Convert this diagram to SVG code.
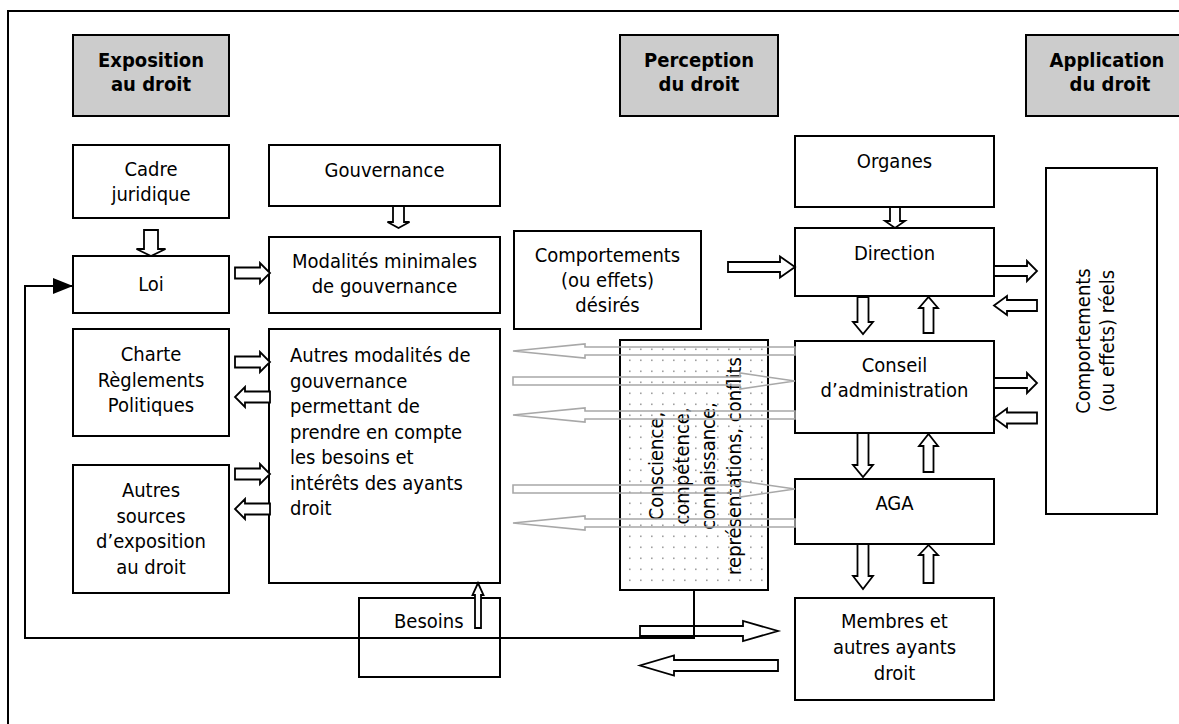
<svg xmlns="http://www.w3.org/2000/svg" width="1179" height="724" viewBox="0 0 1179 724">
<defs>
<style>
.box{fill:#fff;stroke:#000;stroke-width:2}
.hdr{fill:#cccccc;stroke:#000;stroke-width:2}
.t{font-family:"DejaVu Sans Condensed","DejaVu Sans",sans-serif;font-stretch:condensed;font-size:20px;fill:#000}
.b{font-weight:bold}
.c{text-anchor:middle}
.ba{fill:#fff;stroke:#000;stroke-width:1.8;stroke-linejoin:miter}
.ga{fill:none;stroke:#a8a8a8;stroke-width:1.6}
.ln{fill:none;stroke:#000;stroke-width:2}
</style>
<pattern id="dots" width="11" height="11" patternUnits="userSpaceOnUse" x="620" y="340">
<rect width="11" height="11" fill="#fff"/>
<rect x="9" y="8.5" width="1.6" height="1.6" fill="#a0a0a0"/>
</pattern>
<marker id="tri" markerUnits="userSpaceOnUse" markerWidth="20" markerHeight="16" refX="20" refY="8" orient="auto">
<path d="M0,0 L20,8 L0,16 Z" fill="#000"/>
</marker>
</defs>
<rect width="1179" height="724" fill="#fff"/>
<path d="M8,740 V11 H1190" class="ln"/>

<g id="hdr-exposition"><rect class="hdr" x="73" y="35" width="156" height="81"/>
<text class="t b c" x="151" y="67">Exposition</text><text class="t b c" x="151" y="91">au droit</text></g>
<g id="hdr-perception"><rect class="hdr" x="620" y="35" width="158" height="81"/>
<text class="t b c" x="699" y="67">Perception</text><text class="t b c" x="699" y="91">du droit</text></g>
<g id="hdr-application"><rect class="hdr" x="1026" y="35" width="170" height="81"/>
<text class="t b c" x="1107" y="67">Application</text><text class="t b c" x="1110" y="91">du droit</text></g>

<g id="cadre"><rect class="box" x="73" y="145" width="156" height="73"/>
<text class="t c" x="151" y="176">Cadre</text><text class="t c" x="151" y="201">juridique</text></g>
<g id="gouvernance"><rect class="box" x="269" y="145" width="231" height="61"/>
<text class="t c" x="384.5" y="177">Gouvernance</text></g>
<g id="loi"><rect class="box" x="73" y="256" width="156" height="57"/>
<text class="t c" x="151" y="291">Loi</text></g>
<g id="modalites-minimales"><rect class="box" x="269" y="237" width="231" height="76"/>
<text class="t c" x="384.5" y="268">Modalités minimales</text><text class="t c" x="384.5" y="293">de gouvernance</text></g>
<g id="charte"><rect class="box" x="73" y="329" width="156" height="107"/>
<text class="t c" x="151" y="361">Charte</text><text class="t c" x="151" y="387">Règlements</text><text class="t c" x="151" y="412">Politiques</text></g>
<g id="autres-modalites"><rect class="box" x="269" y="329" width="231" height="254"/>
<text class="t" x="290" y="362">Autres modalités de</text>
<text class="t" x="290" y="387.5">gouvernance</text>
<text class="t" x="290" y="413">permettant de</text>
<text class="t" x="290" y="438.5">prendre en compte</text>
<text class="t" x="290" y="464">les besoins et</text>
<text class="t" x="290" y="490">intérêts des ayants</text>
<text class="t" x="290" y="515">droit</text></g>
<g id="autres-sources"><rect class="box" x="73" y="465" width="156" height="128"/>
<text class="t c" x="151" y="497">Autres</text><text class="t c" x="151" y="523">sources</text><text class="t c" x="151" y="548">d’exposition</text><text class="t c" x="151" y="574">au droit</text></g>
<g id="besoins"><rect class="box" x="359" y="598" width="141" height="79"/>
<text class="t" x="394" y="628">Besoins</text></g>
<g id="desires"><rect class="box" x="514" y="231" width="187" height="98"/>
<text class="t c" x="607.5" y="262">Comportements</text><text class="t c" x="607.5" y="287">(ou effets)</text><text class="t c" x="607.5" y="312">désirés</text></g>
<g id="conscience"><rect x="620" y="340" width="148" height="250" fill="url(#dots)" stroke="#000" stroke-width="2"/>
<text class="t c" transform="translate(663,466) rotate(-90)"><tspan x="0" y="0">Conscience,</tspan><tspan x="0" y="26">compétence,</tspan><tspan x="0" y="52">connaissance,</tspan><tspan x="0" y="78">représentations, conflits</tspan></text></g>
<g id="organes"><rect class="box" x="795" y="136" width="199" height="71"/>
<text class="t c" x="894.5" y="168">Organes</text></g>
<g id="direction"><rect class="box" x="795" y="228" width="199" height="68"/>
<text class="t c" x="894.5" y="260">Direction</text></g>
<g id="conseil"><rect class="box" x="795" y="341" width="199" height="92"/>
<text class="t c" x="894.5" y="372">Conseil</text><text class="t c" x="894.5" y="397">d’administration</text></g>
<g id="aga"><rect class="box" x="795" y="479" width="199" height="65"/>
<text class="t c" x="894.5" y="510">AGA</text></g>
<g id="membres"><rect class="box" x="795" y="598" width="199" height="102"/>
<text class="t c" x="894.5" y="628">Membres et</text><text class="t c" x="894.5" y="654">autres ayants</text><text class="t c" x="894.5" y="680">droit</text></g>
<g id="reels"><rect class="box" x="1046" y="168" width="111" height="346"/>
<text class="t c" transform="translate(1090,341) rotate(-90)"><tspan x="0" y="0">Comportements</tspan><tspan x="0" y="24">(ou effets) réels</tspan></text></g>

<g id="connectors">
<path class="ln" d="M694,590 V638 H25 V286 H73" marker-end="url(#tri)"/>
<polygon class="ba" points="235,267.5 260,267.5 260,263 270,273 260,283 260,278.5 235,278.5"/>
<polygon class="ba" points="235,356.5 260,356.5 260,352 270,362 260,372 260,367.5 235,367.5"/>
<polygon class="ba" points="270,391.5 245,391.5 245,387 235,397 245,407 245,402.5 270,402.5"/>
<polygon class="ba" points="235,468.5 260,468.5 260,464 270,474 260,484 260,479.5 235,479.5"/>
<polygon class="ba" points="270,503.5 245,503.5 245,499 235,509 245,519 245,514.5 270,514.5"/>
<polygon class="ba" points="144,230 158,230 158,249 165.5,249 151,256 136.5,249 144,249"/>
<polygon class="ba" points="393,206 404,206 404,222 409.5,222 398.5,228 387.5,222 393,222"/>
<polygon class="ba" points="890,207 900,207 900,221 905,221 895,228 885,221 890,221"/>
<polygon class="ba" points="728,262 780,262 780,256.5 795,267 780,277.5 780,272 728,272"/>
<polygon class="ba" points="994,266 1027,266 1027,261 1037,271 1027,281 1027,276 994,276"/>
<polygon class="ba" points="1037,300 1007,300 1007,296 994,305.5 1007,315 1007,311 1037,311"/>
<polygon class="ba" points="994,378 1027,378 1027,373 1037,383 1027,393 1027,388 994,388"/>
<polygon class="ba" points="1037,412.5 1007,412.5 1007,408.5 994,418 1007,427.5 1007,423.5 1037,423.5"/>
<polygon class="ba" points="857.5,297 868.5,297 868.5,322 873,322 863,334 853,322 857.5,322"/>
<polygon class="ba" points="857.5,433 868.5,433 868.5,465 873,465 863,477 853,465 857.5,465"/>
<polygon class="ba" points="857.5,544 868.5,544 868.5,576 873,576 863,589 853,576 857.5,576"/>
<polygon class="ba" points="923.5,333 933.5,333 933.5,308 938,308 928.5,297 919,308 923.5,308"/>
<polygon class="ba" points="923.5,472 933.5,472 933.5,446 938,446 928.5,434 919,446 923.5,446"/>
<polygon class="ba" points="923.5,583 933.5,583 933.5,555 938,555 928.5,545 919,555 923.5,555"/>
<polygon class="ba" points="475,628 481,628 481,595 483.5,595 478,583 472.5,595 475,595"/>
<polygon class="ba" points="640,626 743,626 743,621 778,631 743,641 743,636 640,636"/>
<polygon class="ba" points="778,660 674,660 674,655.5 640,665.5 674,675.5 674,671 778,671"/>
<path class="ln" d="M694,590 V638"/>
<polygon class="ga" points="795,347 585,347 585,344 513,351 585,358 585,355 795,355"/>
<polygon class="ga" points="513,377 740,377 740,373 795,381 740,389 740,385 513,385"/>
<polygon class="ga" points="795,411 585,411 585,408 513,415 585,422 585,419 795,419"/>
<polygon class="ga" points="513,485 740,485 740,481 795,489 740,497 740,493 513,493"/>
<polygon class="ga" points="795,519 585,519 585,516 513,523 585,530 585,527 795,527"/>
</g>
</svg>
